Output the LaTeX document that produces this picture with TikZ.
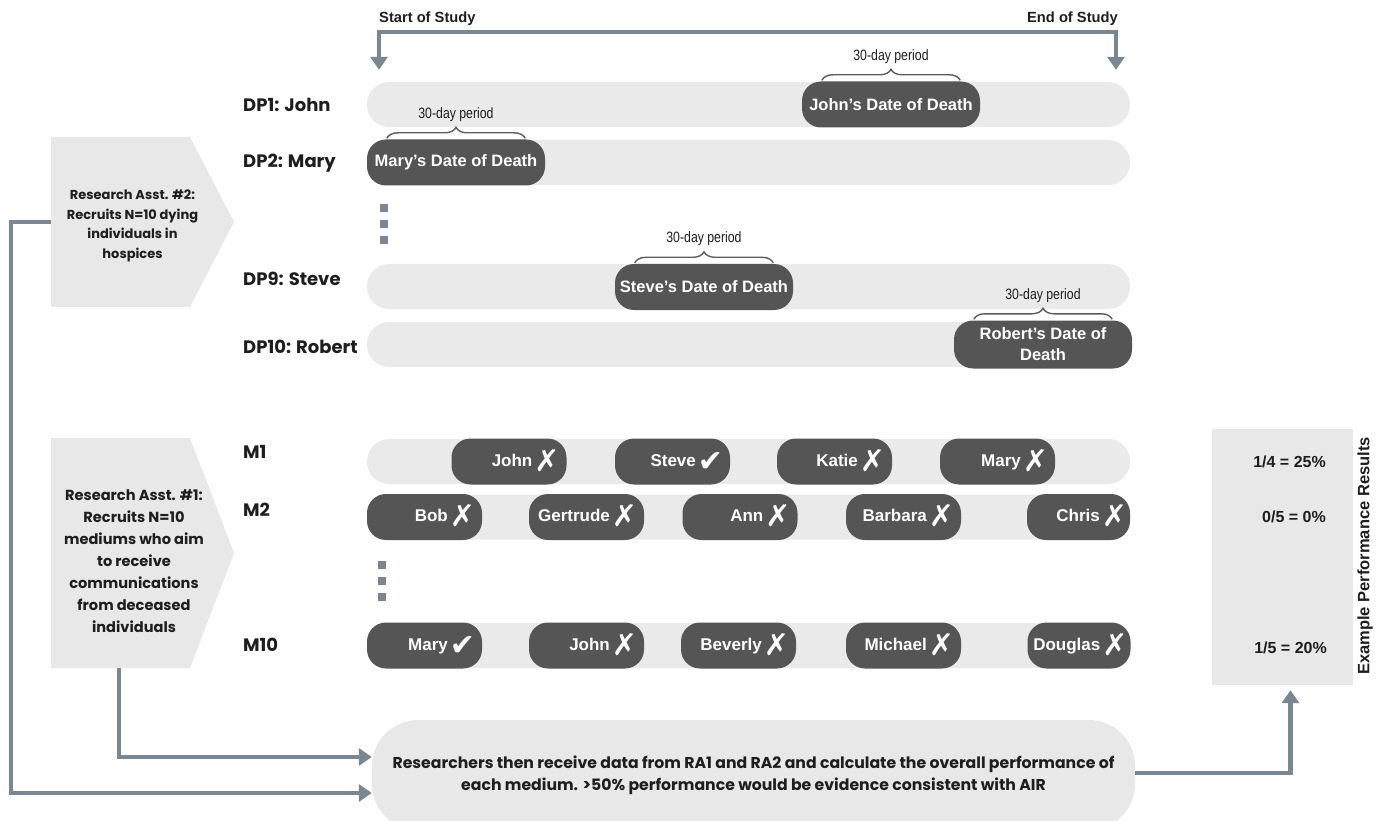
\documentclass[tikz,border=0pt]{standalone}
\usepackage{fontspec}
\setmainfont{Liberation Sans}
\newfontfamily\headfont{Poppins}
\newfontfamily\narrowfont[FakeStretch=0.82]{Liberation Sans}
\newfontfamily\markfont{DejaVu Sans}
\usepackage{tikz}
\usetikzlibrary{arrows.meta,positioning,calc,decorations.pathreplacing}
\definecolor{lane}{HTML}{EAEAEA}
\definecolor{panel}{HTML}{E8E8E8}
\definecolor{pill}{HTML}{555555}
\definecolor{slate}{HTML}{7A8792}
\definecolor{brc}{HTML}{5C5C5C}
\definecolor{ink}{HTML}{1E1E1E}
\newcommand\miss{\hspace{2pt}\smash{\raisebox{-5pt}{\markfont\fontsize{30}{30}\selectfont ✗}}}
\newcommand\hit{\hspace{2pt}\smash{\raisebox{-5pt}{\markfont\fontsize{30}{30}\selectfont ✔}}}
\tikzset{
  >={Triangle[length=13pt,width=17pt]},
  every picture/.style={font=\fontsize{16}{19}\selectfont},
  bar/.style={fill=lane,rounded corners=22pt,minimum width=763pt,minimum height=45pt,inner sep=0pt},
  dod/.style={fill=pill,text=white,rounded corners=19pt,minimum width=178pt,minimum height=46pt,inner sep=2pt,align=center,font=\bfseries\fontsize{16.5}{21}\selectfont},
  pick/.style={dod,minimum width=115pt,text width=101pt,inner xsep=7pt,align=right,text height=12.5pt,text depth=3.5pt,font=\bfseries\fontsize{17}{20}\selectfont},
  pickend/.style={pick,minimum width=103pt,text width=97pt,inner xsep=3pt},
  rowlab/.style={anchor=west,inner sep=0pt,text=ink,font=\headfont\bfseries\fontsize{18}{21}\selectfont},
  ratext/.style={align=center,text=ink,font=\headfont\bfseries\fontsize{13}{19.5}\selectfont},
  conn/.style={draw=slate,line width=4.5pt},
  span/.style={decorate,decoration={brace,amplitude=11pt},draw=brc,line width=1.4pt},
  per/.style={inner sep=0pt,text=ink,font=\narrowfont\fontsize{15}{15}\selectfont},
  res/.style={anchor=east,inner sep=0pt,text=ink,font=\bfseries\fontsize{16}{19}\selectfont},
  endlab/.style={inner sep=0pt,text=ink,font=\bfseries\fontsize{14.7}{16}\selectfont},
}
\begin{document}
\begin{tikzpicture}[x=1pt,y=-1pt]
  \useasboundingbox (0,0) rectangle (1385,821);

  % study window
  \node[endlab,anchor=west] (sos) at (379,19) {Start of Study};
  \node[endlab,anchor=east] (eos) at (1118,19) {End of Study};
  \coordinate (topl) at (379,32);
  \coordinate (topr) at (1116,32);

  % dying participants
  \node[bar] (dp1) at (748.5,104.5) {};
  \node[bar] (dp2) at (748.5,162.5) {};
  \node[bar] (dp9) at (748.5,286.5) {};
  \node[bar] (dp10) at (748.5,344.5) {};
  \node[rowlab] (dp1lab) at (243,105) {DP1: John};
  \node[rowlab] (dp2lab) at (243,163) {DP2: Mary};
  \node[rowlab] (dp9lab) at (243,279) {DP9: Steve};
  \node[rowlab] (dp10lab) at (243,347) {DP10: Robert};
  \draw[conn,<->] ($(topl |- dp1.north)+(0,-12)$) -- (topl) -- (topr) -- ($(topr |- dp1.north)+(0,-12)$);
  \foreach \yy in {208.5,224,240} \fill[slate] (384,\yy) +(-4,-4) rectangle +(4,4);

  \node[dod] (jdod) at (891,104.5) {John's Date of Death};
  \node[dod] (mdod) at (456,162.5) {Mary's Date of Death};
  \node[dod] (sdod) at (704,287) {Steve's Date of Death};
  \node[dod,minimum height=48pt] (rdod) at (1043,344.5) {Robert's Date of\\Death};
  \foreach \p in {jdod,mdod,sdod,rdod}
    \draw[span] ([xshift=20pt,yshift=1pt]\p.north west) -- node[per,midway,above=16pt] (\p-per) {30-day period} ([xshift=-20pt,yshift=1pt]\p.north east);

  % mediums
  \node[bar] (m1) at (748.5,461.5) {};
  \node[bar] (m2) at (748.5,517) {};
  \node[bar] (m10) at (748.5,645.5) {};
  \node[rowlab] (m1lab) at (243,452) {M1};
  \node[rowlab] (m2lab) at (243,510) {M2};
  \node[rowlab] (m10lab) at (243,645) {M10};
  \foreach \yy in {565,581,597} \fill[slate] (382,\yy) +(-4,-4) rectangle +(4,4);

  \foreach \cx/\who/\mk in {509/John/\miss,672.5/Steve/\hit,834.5/Katie/\miss,997.5/Mary/\miss}
    \node[pick] (m1-\who) at (\cx,461.5) {\who\mk};
  \foreach \cx/\who/\mk/\sty in {424.5/Bob/\miss/pick,586.5/Gertrude/\miss/pick,740/Ann/\miss/pick,903.5/Barbara/\miss/pick,1078.5/Chris/\miss/pickend}
    \node[\sty] (m2-\who) at (\cx,517) {\who\mk};
  \foreach \cx/\who/\mk/\sty in {424.5/Mary/\hit/pick,586.5/John/\miss/pick,738.5/Beverly/\miss/pick,903.5/Michael/\miss/pick,1079/Douglas/\miss/pickend}
    \node[\sty] (m10-\who) at (\cx,645.5) {\who\mk};

  % research assistants
  \fill[panel] (51,222) coordinate (ra2w) -- (51,137) -- (190,137) -- (234,222) -- (190,307) -- (51,307) -- cycle;
  \node[ratext] (ra2) at (132.5,226) {Research Asst. \#2:\\Recruits N=10 dying\\individuals in\\hospices};
  \fill[panel] (119,668) coordinate (ra1s) -- (51,668) -- (51,438) -- (190,438) -- (234,553) -- (190,668) -- cycle;
  \node[ratext,font=\headfont\bfseries\fontsize{14.6}{22}\selectfont] (ra1) at (134,561) {Research Asst. \#1:\\Recruits N=10\\mediums who aim\\to receive\\communications\\from deceased\\individuals};

  % analysis and results
  \node[fill=panel,rounded corners=46pt,minimum width=763pt,minimum height=110pt,align=center,text=ink,font=\headfont\bfseries\fontsize{15.7}{22}\selectfont] (tally) at (753.5,775) {Researchers then receive data from RA1 and RA2 and calculate the overall performance of\\each medium. >50\% performance would be evidence consistent with AIR};
  \draw[conn,->] (ra2w) -- ++(-40,0) |- ([yshift=-18pt]tally.west);
  \draw[conn,->] (ra1s) |- ([yshift=18pt]tally.west);

  \node[fill=panel,minimum width=141pt,minimum height=256pt,inner sep=0pt] (results) at (1282.5,557) {};
  \draw[conn,->] ([yshift=2pt]tally.east) -| ([xshift=8pt,yshift=-5pt]results.south);
  \node[res] (r1) at (1326,462) {1/4 = 25\%};
  \node[res] (r2) at (1326,517) {0/5 = 0\%};
  \node[res] (r10) at (1327,648) {1/5 = 20\%};
  \node[rotate=90,inner sep=0pt,text=ink,font=\bfseries\fontsize{16.5}{19}\selectfont] (restitle) at (1365,556) {Example Performance Results};
\end{tikzpicture}
\end{document}
